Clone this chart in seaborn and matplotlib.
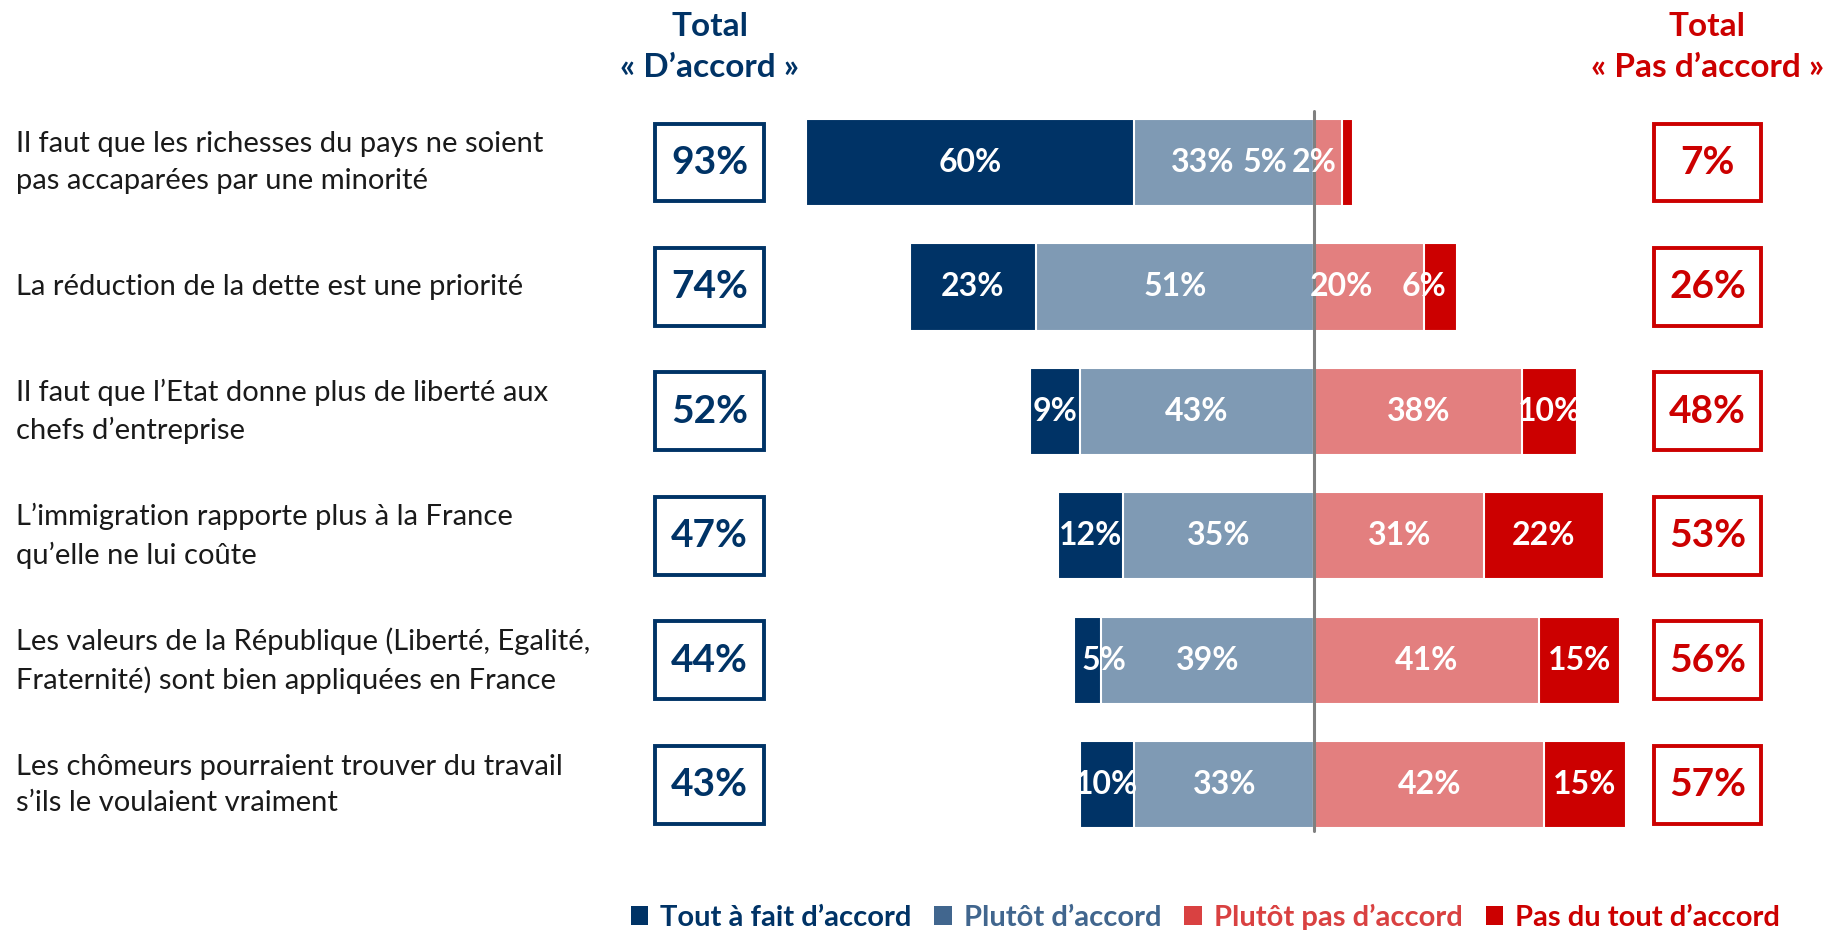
import numpy as np
import matplotlib.pyplot as plt
import seaborn as sns
from matplotlib.patches import Patch, Rectangle
from matplotlib.transforms import blended_transform_factory

# data
questions = [
    "Il faut que les richesses du pays ne soient\npas accaparées par une minorité",
    "La réduction de la dette est une priorité",
    "Il faut que l’Etat donne plus de liberté aux\nchefs d’entreprise",
    "L’immigration rapporte plus à la France\nqu’elle ne lui coûte",
    "Les valeurs de la République (Liberté, Egalité,\nFraternité) sont bien appliquées en France",
    "Les chômeurs pourraient trouver du travail\ns’ils le voulaient vraiment",
]
tout_accord = [60, 23, 9, 12, 5, 10]
plutot_accord = [33, 51, 43, 35, 39, 33]
plutot_pas = [5, 20, 38, 31, 41, 42]
pas_du_tout = [2, 6, 10, 22, 15, 15]
total_accord = [93, 74, 52, 47, 44, 43]
total_pas = [7, 26, 48, 53, 56, 57]
legend_labels = ["Tout à fait d’accord", "Plutôt d’accord",
                 "Plutôt pas d’accord", "Pas du tout d’accord"]

navy = '#003366'
steel = '#7F9AB4'
light_red = '#E37F7F'
red = '#CC0000'
legend_colors = [navy, '#41668E', '#D94141', red]

# small nudges for crowded labels (row, segment) -> % units
label_nudge = {(0, 1): -4, (0, 2): -11.5, (0, 3): -6, (1, 2): -5, (1, 3): -3, (4, 0): 3}

sns.set_theme(style='white')
plt.rcParams['font.family'] = ['Lato', 'DejaVu Sans']

fig = plt.figure(figsize=(18.26, 9.30), dpi=100)
ax = fig.add_axes([0.3907, 0.0892, 0.5985, 0.803])

keys = [f'q{i}' for i in range(len(questions))]
ta = np.array(tout_accord)
pa = np.array(plutot_accord)
pp = np.array(plutot_pas)
pd_ = np.array(pas_du_tout)

common = dict(orient='h', width=0.7, edgecolor='white', linewidth=1.5, saturation=1, ax=ax)
sns.barplot(x=-(ta + pa), y=keys, color=navy, **common)
sns.barplot(x=-pa, y=keys, color=steel, **common)
sns.barplot(x=pp + pd_, y=keys, color=red, **common)
sns.barplot(x=pp, y=keys, color=light_red, **common)

ax.set_xlim(-110, 90)
ax.set_ylim(5.5, -0.5)
ax.set_axis_off()

ax.plot([0, 0], [-0.41, 5.37], color='#808080', lw=2.2, zorder=5, clip_on=False)

# value labels
for i in range(len(keys)):
    segs = [
        (-(pa[i] + ta[i] / 2), ta[i]),
        (-pa[i] / 2, pa[i]),
        (pp[i] / 2, pp[i]),
        (pp[i] + pd_[i] / 2, pd_[i]),
    ]
    for j, (xc, v) in enumerate(segs):
        xc = xc + label_nudge.get((i, j), 0)
        ax.text(xc, i, f'{v}%', ha='center', va='center', color='white',
                fontweight='bold', fontsize=23, zorder=6)

trans = blended_transform_factory(fig.transFigure, ax.transData)

# question labels and total boxes
for i, q in enumerate(questions):
    ax.text(0.0088, i, q, transform=trans, ha='left', va='center',
            fontsize=21, color='#1a1a1a', linespacing=1.5, clip_on=False)
    ax.add_patch(Rectangle((0.3587, i - 0.313), 0.0597, 0.626, transform=trans,
                           fill=False, ec=navy, lw=2.8, clip_on=False))
    ax.text(0.3886, i, f'{total_accord[i]}%', transform=trans, ha='center', va='center',
            color=navy, fontweight='bold', fontsize=28, clip_on=False)
    ax.add_patch(Rectangle((0.9058, i - 0.313), 0.0586, 0.626, transform=trans,
                           fill=False, ec=red, lw=2.8, clip_on=False))
    ax.text(0.9351, i, f'{total_pas[i]}%', transform=trans, ha='center', va='center',
            color=red, fontweight='bold', fontsize=28, clip_on=False)

# column headers
fig.text(0.3886, 0.972, 'Total', ha='center', va='center', color=navy,
         fontweight='bold', fontsize=24)
fig.text(0.3886, 0.927, '« D’accord »', ha='center', va='center', color=navy,
         fontweight='bold', fontsize=24)
fig.text(0.9351, 0.972, 'Total', ha='center', va='center', color=red,
         fontweight='bold', fontsize=24)
fig.text(0.9351, 0.927, '« Pas d’accord »', ha='center', va='center', color=red,
         fontweight='bold', fontsize=24)

# legend
handles = [Patch(facecolor=c, edgecolor='none') for c in legend_colors]
fig.legend(handles, legend_labels, loc='center', bbox_to_anchor=(0.66, 0.014), ncol=4,
           frameon=False, labelcolor=legend_colors, prop={'weight': 'bold', 'size': 21},
           handlelength=0.6, handleheight=0.6, handletextpad=0.4, columnspacing=0.8)

fig.savefig('out.png', dpi=100)
